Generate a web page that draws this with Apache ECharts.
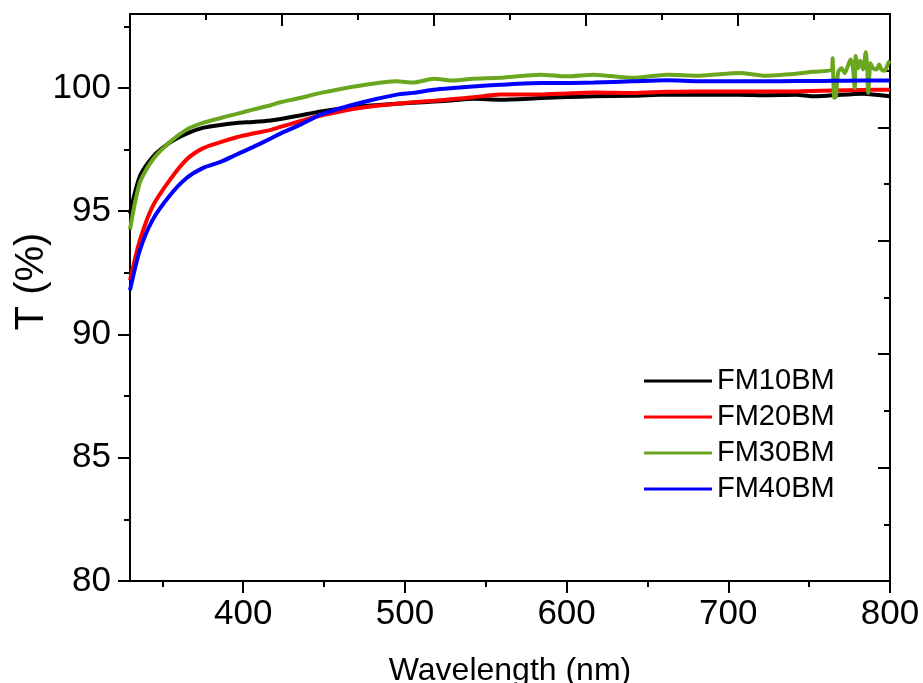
<!DOCTYPE html>
<html>
<head>
<meta charset="utf-8">
<script src="https://cdn.jsdelivr.net/npm/echarts@6/dist/echarts.min.js"></script>
<style>
  html, body { margin: 0; padding: 0; background: #fff; }
  #chart { width: 923px; height: 683px; }
</style>
</head>
<body>
<div id="chart"></div>
<script>
// wavelength (nm), shared by all four curves
const wavelength = [330, 336, 344, 355, 365, 375, 386, 396, 406, 417, 423, 435, 448, 472, 495, 505,
  518, 530, 542, 559, 584, 600, 617, 641, 662, 682, 707, 722, 742, 752, 764, 783, 800]

const fm10 = [94.9, 96.4, 97.2, 97.8, 98.15, 98.38, 98.5, 98.58, 98.62, 98.68, 98.74, 98.88, 99.05, 99.25, 99.36, 99.4,
  99.45, 99.5, 99.56, 99.52, 99.59, 99.63, 99.66, 99.68, 99.73, 99.72, 99.72, 99.7, 99.72, 99.66, 99.7, 99.77, 99.66]
const fm20 = [92.2, 93.8, 95.2, 96.3, 97.1, 97.55, 97.8, 98.0, 98.15, 98.3, 98.42, 98.65, 98.88, 99.19, 99.36, 99.42,
  99.48, 99.55, 99.62, 99.73, 99.73, 99.78, 99.82, 99.8, 99.85, 99.86, 99.86, 99.86, 99.86, 99.88, 99.9, 99.92, 99.93]
const fm30 = [94.25, 96.14, 97.09, 97.83, 98.31, 98.58, 98.78, 98.95, 99.12, 99.3, 99.42, 99.59, 99.8, 100.09, 100.27, 100.22,
  100.37, 100.3, 100.37, 100.41, 100.54, 100.47, 100.54, 100.41, 100.54, 100.5, 100.61, 100.5, 100.58, 100.66, 100.74]
const fm40 = [91.8, 93.4, 94.65, 95.67, 96.35, 96.75, 97.0, 97.3, 97.6, 97.95, 98.15, 98.5, 98.92, 99.39, 99.73, 99.8,
  99.93, 100.0, 100.06, 100.13, 100.2, 100.2, 100.22, 100.27, 100.31, 100.27, 100.27, 100.27, 100.28, 100.28, 100.29, 100.3, 100.3]

// noisy tail of FM30BM above ~764 nm
const fm30TailWl = [764.5, 765.5, 766.5, 768, 770, 772, 774, 775.6, 777, 778.2, 778.8, 780.3, 781.7, 783.4,
  785, 786, 786.5, 788, 789.5, 791.6, 793.3, 794.7, 796.8, 798.8, 800]
const fm30TailT = [101.2, 99.6, 99.65, 100.65, 100.8, 100.6, 100.9, 101.15, 100.85, 100.0, 101.3, 100.8, 101.1, 100.75,
  101.45, 100.7, 99.8, 101.0, 100.8, 100.75, 100.95, 100.75, 100.7, 101.0, 101.1]

const names = ['FM10BM', 'FM20BM', 'FM30BM', 'FM40BM']
const colors = ['#000000', '#ff0000', '#6aa61e', '#0000ff']

const xMajor = [400, 500, 600, 700, 800]
const xMinor = [350, 450, 550, 650, 750]
const yMajor = [80, 85, 90, 95, 100]
const yMinor = [82.5, 87.5, 92.5, 97.5, 102.5]

const font = "'Liberation Sans', Arial, sans-serif"
const axisLine = { show: true, lineStyle: { color: '#000', width: 2 } }

const pairs = (xs, ys) => ys.map((v, i) => [xs[i], v])

const chart = echarts.init(document.getElementById('chart'))

const seriesData = [
  pairs(wavelength, fm10),
  pairs(wavelength, fm20),
  pairs(wavelength, fm30).concat(pairs(fm30TailWl, fm30TailT)),
  pairs(wavelength, fm40)
]

chart.setOption({
  animation: false,
  backgroundColor: '#fff',
  grid: { left: 130, right: 33, top: 14, bottom: 102, containLabel: false, outerBoundsMode: 'none' },
  legend: {
    orient: 'vertical',
    left: 639,
    top: 361,
    itemWidth: 68,
    itemHeight: 3,
    itemGap: 6,
    icon: 'rect',
    textStyle: { fontFamily: font, fontSize: 29, color: '#000', lineHeight: 30 },
    data: names
  },
  xAxis: [
    {
      type: 'value', position: 'bottom', min: 330, max: 800,
      axisLine,
      axisTick: { show: true, length: 12, lineStyle: { width: 2, color: '#000' }, customValues: xMajor },
      axisLabel: { customValues: xMajor, fontFamily: font, fontSize: 35, color: '#000', margin: 16 },
      splitLine: { show: false },
      name: 'Wavelength (nm)',
      nameLocation: 'middle',
      nameGap: 74,
      nameMoveOverlap: false,
      nameTextStyle: { fontFamily: font, fontSize: 32, color: '#000' }
    },
    {
      type: 'value', position: 'bottom', min: 330, max: 800,
      axisLine: { show: false },
      axisTick: { show: true, length: 6, lineStyle: { width: 2, color: '#000' }, customValues: xMinor },
      axisLabel: { show: false },
      splitLine: { show: false }
    },
    {
      type: 'value', position: 'top', min: 0, max: 10, interval: 2,
      axisLine,
      axisTick: { show: true, inside: true, length: 12, lineStyle: { width: 2, color: '#000' } },
      minorTick: { show: true, splitNumber: 2, length: 6, lineStyle: { width: 2, color: '#000' } },
      axisLabel: { show: false },
      splitLine: { show: false }
    }
  ],
  yAxis: [
    {
      type: 'value', position: 'left', min: 80, max: 103,
      axisLine,
      axisTick: { show: true, length: 12, lineStyle: { width: 2, color: '#000' }, customValues: yMajor },
      axisLabel: { customValues: yMajor, fontFamily: font, fontSize: 35, color: '#000', margin: 19 },
      splitLine: { show: false },
      name: 'T (%)',
      nameLocation: 'middle',
      nameGap: 78,
      nameMoveOverlap: false,
      nameTextStyle: { fontFamily: font, fontSize: 40, color: '#000', padding: [0, 0, 0, 32] }
    },
    {
      type: 'value', position: 'left', min: 80, max: 103,
      axisLine: { show: false },
      axisTick: { show: true, length: 6, lineStyle: { width: 2, color: '#000' }, customValues: yMinor },
      axisLabel: { show: false },
      splitLine: { show: false }
    },
    {
      type: 'value', position: 'right', min: 0, max: 10, interval: 2,
      axisLine,
      axisTick: { show: true, inside: true, length: 12, lineStyle: { width: 2, color: '#000' } },
      minorTick: { show: true, splitNumber: 2, length: 6, lineStyle: { width: 2, color: '#000' } },
      axisLabel: { show: false },
      splitLine: { show: false }
    }
  ],
  series: names.map((n, i) => ({
    name: n,
    type: 'line',
    xAxisIndex: 0,
    yAxisIndex: 0,
    data: seriesData[i],
    symbol: 'none',
    smooth: 0.25,
    color: colors[i],
    lineStyle: { width: 4, color: colors[i] }
  }))
})
</script>
</body>
</html>
